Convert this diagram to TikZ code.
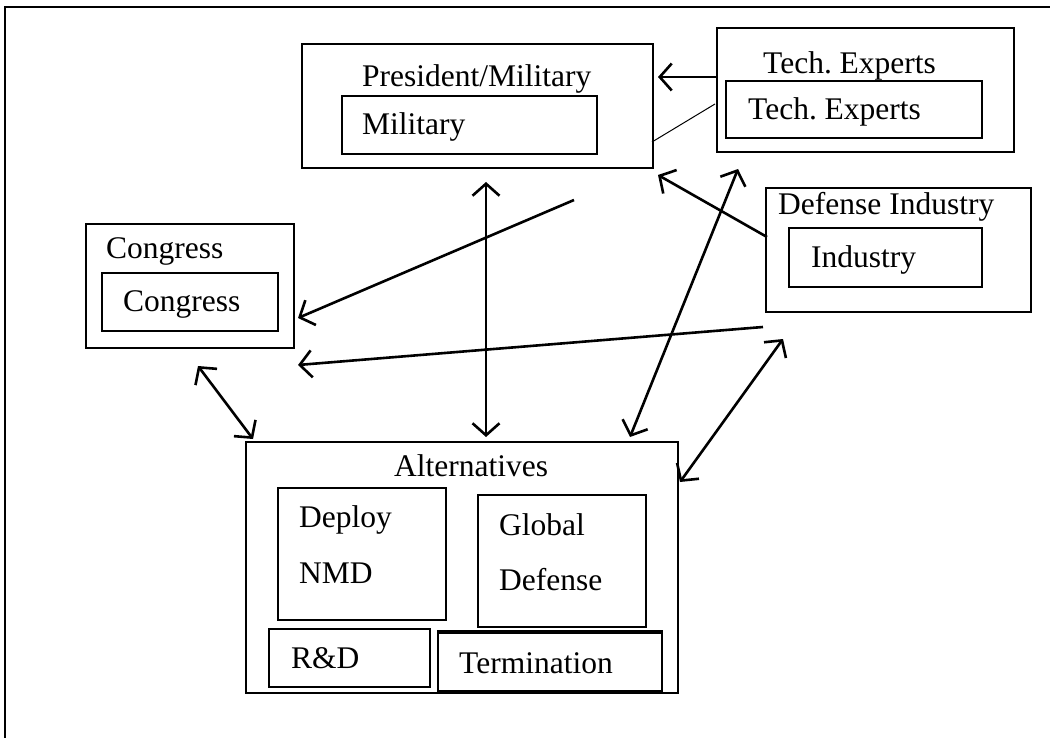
\documentclass[tikz,border=0pt]{standalone}
\usepackage{fontspec}
\setmainfont{Liberation Serif}
\usetikzlibrary{arrows.meta,fit}
\begin{document}
\begin{tikzpicture}[x=1pt,y=-1pt,
  box/.style={draw,line width=2.4pt,inner sep=0pt,fit={#1}},
  lbl/.style={anchor=base west,inner sep=0pt,font=\fontsize{31.5}{38}\selectfont},
  conn/.style={line width=2.6pt},
  one/.style={conn,-{Straight Barb[length=12pt,width=27pt]}},
  two/.style={conn,{Straight Barb[length=12pt,width=27pt]}-{Straight Barb[length=12pt,width=27pt]}}]
\useasboundingbox (0,0) rectangle (1050,738);
\fill[white] (0,0) rectangle (1050,738);
% outer frame (only top and left visible)
\draw[line width=2.2pt] (1052,7) -- (5,7) -- (5,742);

% President/Military
\node[box={(302,44) (653,168)}] (pres) {};
\node[box={(342,96) (597,154)}] (mil) {};
\node[lbl] (presT) at (362,87) {President/Military};
\node[lbl] (milT) at (362,135) {Military};

% Tech Experts
\node[box={(717,28) (1014,152)}] (tech) {};
\node[box={(726,81) (982,138)}] (techin) {};
\node[lbl] (techT) at (763,74) {Tech.\ Experts};
\node[lbl] (techinT) at (748,120) {Tech.\ Experts};

% Defense Industry
\node[box={(766,188) (1031,312)}] (def) {};
\node[box={(789,228) (982,287)}] (ind) {};
\node[lbl] (defT) at (778,215) {Defense Industry};
\node[lbl] (indT) at (811,268) {Industry};

% Congress
\node[box={(86,224) (294,348)}] (cong) {};
\node[box={(102,273) (278,331)}] (congin) {};
\node[lbl] (congT) at (106,259) {Congress};
\node[lbl] (conginT) at (123,312) {Congress};

% Alternatives
\node[box={(246,442) (678,693)}] (alt) {};
\node[lbl] (altT) at (394,476) {Alternatives};
\node[box={(278,488) (446,620)}] (nmd) {};
\node[lbl] (nmdT1) at (299,527) {Deploy};
\node[lbl] (nmdT2) at (299,583) {NMD};
\node[box={(478,495) (646,627)}] (glob) {};
\node[lbl] (globT1) at (499,535) {Global};
\node[lbl] (globT2) at (499,590) {Defense};
\node[box={(269,629) (430,687)}] (rd) {};
\node[lbl] (rdT) at (291,668) {R\&D};
\node[box={(438,633) (662,691)}] (term) {};
\draw[line width=3.2pt] (term.north west) -- (term.north east);
\draw[line width=3.2pt] (term.south west) -- (term.south east);
\node[lbl] (termT) at (459,673) {Termination};

% connector end points
\coordinate (presR1) at (658,77);
\coordinate (presR2) at (652,142);
\coordinate (presR3) at (658,175);
\coordinate (presB) at (486,182);
\coordinate (presBR) at (574,200);
\coordinate (techL1) at (tech.west |- presR1);
\coordinate (techL2) at (715,104);
\coordinate (techB) at (738,169);
\coordinate (defL) at (767,237);
\coordinate (defB) at (783,339);
\coordinate (defBL) at (763,327);
\coordinate (congR1) at (298,318);
\coordinate (congR2) at (298,365);
\coordinate (congB) at (198,366);
\coordinate (altT1) at (253,439);
\coordinate (altT2) at (486,437);
\coordinate (altT3) at (630,437);
\coordinate (altR) at (680,482);

\draw[one] (techL1) -- (presR1);
\draw[line width=1pt] (techL2) -- (presR2);
\draw[one] (defL) -- (presR3);
\draw[two] (altT3) -- (techB);
\draw[two] (altT2) -- (presB);
\draw[one] (presBR) -- (congR1);
\draw[one] (defBL) -- (congR2);
\draw[two] (congB) -- (altT1);
\draw[two] (altR) -- (defB);
\end{tikzpicture}
\end{document}
